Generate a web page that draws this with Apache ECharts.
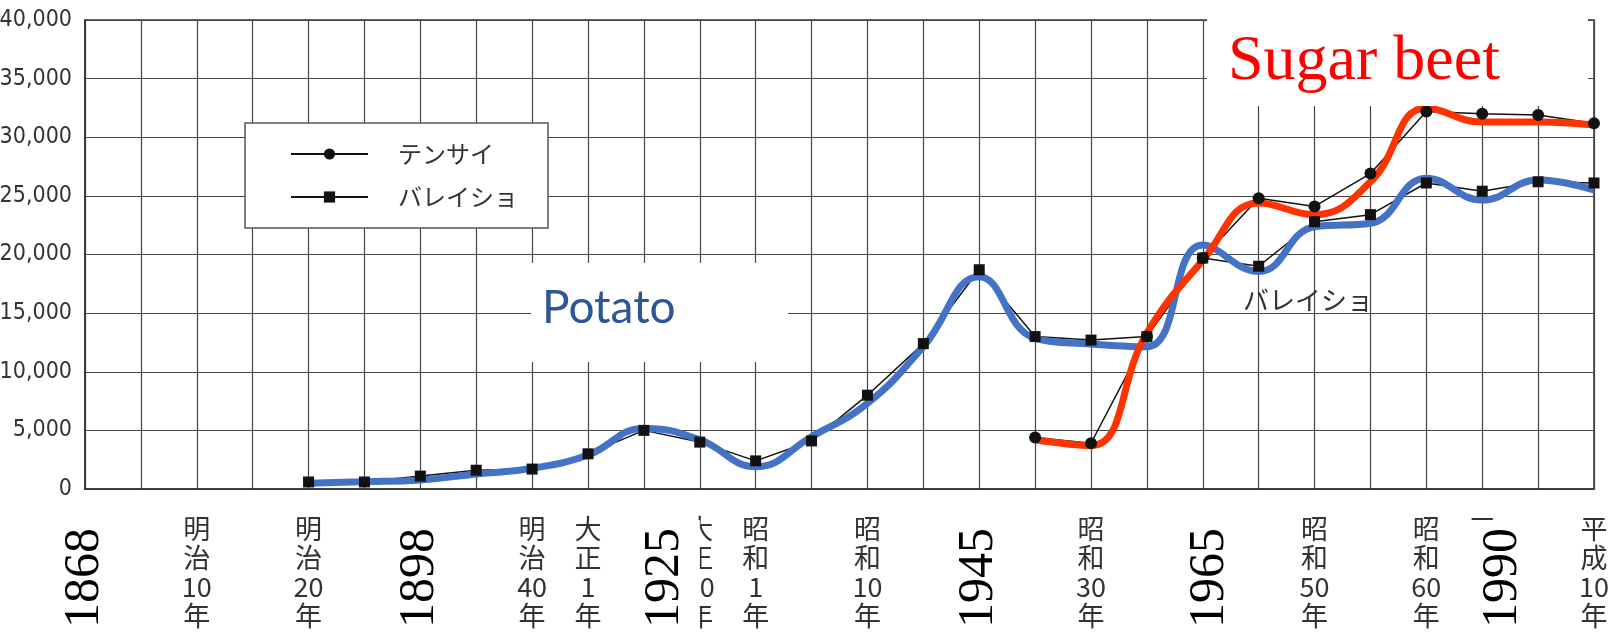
<!DOCTYPE html>
<html>
<head>
<meta charset="utf-8">
<title>テンサイ・バレイショ</title>
<script src="https://cdn.jsdelivr.net/npm/echarts@6/dist/echarts.min.js"></script>
<style>
  html, body { margin: 0; padding: 0; background: #fff; }
  #main { width: 1609px; height: 639px; }
</style>
</head>
<body>
<div id="main"></div>
<script>
// x軸: 目盛り28本 (約5年毎)
var jpTicks = ['', '', '明治10年', '', '明治20年', '', '', '', '明治40年', '大正1年', '', '大正10年', '昭和1年', '',
  '昭和10年', '', '', '', '昭和30年', '', '', '', '昭和50年', '', '昭和60年', '平成2年', '', '平成10年'];
// 西暦ラベル (目盛り位置, 年)
var yearPos = [0, 6, 10.375, 16, 20.125, 25.375];
var yearText = ['1868', '1898', '1925', '1945', '1965', '1990'];
var yTickLabels = ['0', '5,000', '10,000', '15,000', '20,000', '25,000', '30,000', '35,000', '40,000'];

// 元グラフの折れ線 (マーカー)
var beet = ['-', '-', '-', '-', '-', '-', '-', '-', '-', '-', '-', '-', '-', '-', '-', '-', '-',
  4400, 3900, 13000, 19700, 24800, 24100, 26900, 32200, 32000, 31900, 31200];
var potato = ['-', '-', '-', '-', 600, 600, 1100, 1600, 1700, 3000, 5000, 4000, 2400, 4100,
  8000, 12400, 18700, 13000, 12700, 13000, 19700, 19000, 22800, 23400, 26100, 25400, 26200, 26100];
// 上から描いた太い曲線
var beetCurve = ['-', '-', '-', '-', '-', '-', '-', '-', '-', '-', '-', '-', '-', '-', '-', '-', '-',
  4200, 3700, 13300, 19500, 24400, 23400, 26200, 32500, 31300, 31300, 31050];
var potatoCurve = ['-', '-', '-', '-', 500, 620, 770, 1280, 1760, 2900, 5170, 4200, 1900, 4460,
  7310, 12140, 18110, 12850, 12370, 12130, 20800, 18540, 22370, 22660, 26500, 24650, 26350, 25500];

var cats = jpTicks.map(function(t, i) { return 'c' + i; });

var chart = echarts.init(document.getElementById('main'));

function vertical(s) { //縦書きにする
  return s.match(/\d+|./g).join('\n');
}

var option = {
  backgroundColor: '#fff',
  animation: false,
  grid: {
    left: 85, right: 15, top: 20, bottom: 150,
    outerBoundsMode: 'none',
    show: true, borderColor: '#333', borderWidth: 1.5
  },
  legend: {
    orient: 'vertical',
    left: 245, top: 123,
    data: ['テンサイ', 'バレイショ'],
    backgroundColor: '#fff',
    borderColor: '#555', borderWidth: 1.5, borderRadius: 0,
    padding: [19, 30, 19, 45],
    itemWidth: 77, itemHeight: 14, itemGap: 19,
    textStyle: { fontFamily: 'Noto Sans CJK JP', fontSize: 24, color: '#333', padding: [0, 0, 0, 25] }
  },
  xAxis: [{
    type: 'category',
    data: cats,
    boundaryGap: false,
    axisLine: { lineStyle: { color: '#333', width: 1.5 } },
    axisTick: { show: false },
    splitLine: { show: true, interval: 0, lineStyle: { color: '#444', width: 1.2 } },
    axisLabel: {
      interval: function(i) { return jpTicks[i] !== ''; },
      formatter: function(v, i) { return vertical(jpTicks[i]); },
      margin: 25,
      fontFamily: 'Noto Sans CJK JP', fontSize: 27, lineHeight: 29, color: '#333'
    }
  }, {
    // 西暦 (白地で上書き)
    type: 'value',
    position: 'bottom',
    min: 0, max: 27, interval: 0.125,
    z: 5,
    axisLine: { show: false },
    axisTick: { show: false },
    splitLine: { show: false },
    axisLabel: {
      rotate: 90,
      margin: 31,
      showMinLabel: true, showMaxLabel: true,
      formatter: function(v) {
        for (var k = 0; k < yearPos.length; k++) {
          if (Math.abs(yearPos[k] - v) < 0.01) return '{y|' + yearText[k] + '}';
        }
        return '';
      },
      rich: {
        y: {
          fontFamily: 'Liberation Serif', fontSize: 50, lineHeight: 52, color: '#000',
          backgroundColor: '#fff', padding: [10, 8, 10, 18]
        }
      }
    }
  }],
  yAxis: {
    type: 'value',
    min: 0, max: 40000, interval: 5000,
    axisLine: { show: true, lineStyle: { color: '#333', width: 1.5 } },
    axisTick: { show: false },
    splitLine: { lineStyle: { color: '#444', width: 1.2 } },
    axisLabel: {
      margin: 13,
      formatter: function(v) { return yTickLabels[Math.round(v / 5000)]; },
      fontFamily: 'Liberation Sans Narrow, DejaVu Sans Condensed', fontSize: 23, color: '#333'
    }
  },
  series: [{
    name: 'テンサイ', type: 'line', data: beet,
    symbol: 'circle', symbolSize: 12,
    lineStyle: { color: '#111', width: 1.5 },
    itemStyle: { color: '#111' }
  }, {
    name: 'バレイショ', type: 'line', data: potato,
    symbol: 'rect', symbolSize: 11,
    lineStyle: { color: '#111', width: 1.5 },
    itemStyle: { color: '#111' }
  }, {
    name: 'potato curve', type: 'line', data: potatoCurve,
    smooth: 0.45, showSymbol: false, z: 3,
    lineStyle: { color: '#4472C4', width: 7 }
  }, {
    name: 'beet curve', type: 'line', data: beetCurve,
    smooth: 0.45, showSymbol: false, z: 3,
    lineStyle: { color: '#FF3300', width: 7 }
  }],
  graphic: [
    { type: 'rect', z: 10, shape: { x: 1207, y: 10, width: 381, height: 96 }, style: { fill: '#fff' } },
    { type: 'text', z: 11, x: 1228, y: 62,
      style: { text: 'Sugar beet', fill: '#FF0000', font: '64px "Liberation Serif"', verticalAlign: 'middle' } },
    { type: 'rect', z: 10, shape: { x: 531, y: 263, width: 257, height: 99 }, style: { fill: '#fff' } },
    { type: 'text', z: 11, x: 542, y: 308,
      style: { text: 'Potato', fill: '#2F5597', font: '46px Lato', verticalAlign: 'middle' } },
    { type: 'text', z: 11, x: 1243, y: 300,
      style: { text: 'バレイショ', fill: '#333', font: '26px "Noto Sans CJK JP"', verticalAlign: 'middle' } }
  ]
};

chart.setOption(option);
</script>
</body>
</html>
